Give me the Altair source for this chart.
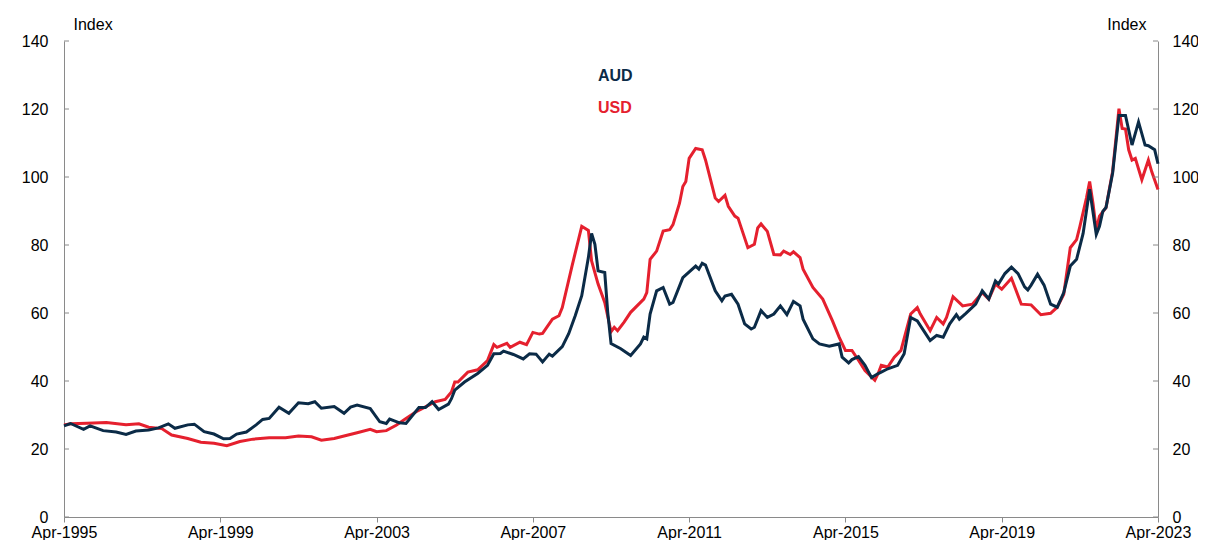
import altair as alt
import pandas as pd

# ---------------- data ----------------
aud_dates = [
    "1995-04", "1995-06", "1995-10", "1995-12", "1996-04", "1996-08", "1996-11",
    "1997-02", "1997-06", "1997-09", "1997-12", "1998-02", "1998-06", "1998-08",
    "1998-11", "1999-02", "1999-05", "1999-07", "1999-09", "1999-12", "2000-03",
    "2000-05", "2000-07", "2000-10", "2001-01", "2001-04", "2001-07", "2001-09",
    "2001-11", "2002-03", "2002-06", "2002-08", "2002-10", "2003-02", "2003-05",
    "2003-07", "2003-08", "2003-11", "2004-01", "2004-05", "2004-07", "2004-09",
    "2004-11", "2005-02", "2005-03", "2005-04", "2005-07", "2005-11", "2006-02",
    "2006-04", "2006-06", "2006-07", "2006-10", "2007-01", "2007-03", "2007-05",
    "2007-07", "2007-09", "2007-10", "2008-01", "2008-03", "2008-05", "2008-07",
    "2008-09", "2008-10", "2008-11", "2008-12", "2009-02", "2009-03", "2009-04",
    "2009-07", "2009-10", "2010-01", "2010-02", "2010-03", "2010-04", "2010-06",
    "2010-08", "2010-10", "2010-11", "2011-02", "2011-06", "2011-07", "2011-08",
    "2011-09", "2011-12", "2012-02", "2012-03", "2012-05", "2012-07", "2012-09",
    "2012-11", "2012-12", "2013-02", "2013-04", "2013-06", "2013-08", "2013-10",
    "2013-12", "2014-02", "2014-03", "2014-06", "2014-08", "2014-11", "2015-02",
    "2015-03", "2015-05", "2015-06", "2015-08", "2015-10", "2015-12", "2016-02",
    "2016-03", "2016-05", "2016-08", "2016-10", "2016-12", "2017-02", "2017-04",
    "2017-06", "2017-08", "2017-10", "2017-12", "2018-02", "2018-03", "2018-05",
    "2018-08", "2018-10", "2018-12", "2019-02", "2019-03", "2019-05", "2019-07",
    "2019-09", "2019-11", "2019-12", "2020-01", "2020-03", "2020-05", "2020-07",
    "2020-09", "2020-11", "2021-01", "2021-03", "2021-05", "2021-07", "2021-09",
    "2021-10", "2021-11", "2021-12", "2022-02", "2022-04", "2022-06", "2022-08",
    "2022-10", "2022-12", "2023-01", "2023-03", "2023-04",
]
aud_values = [
    26.8, 27.5, 25.8, 26.8, 25.4, 25.0, 24.3,
    25.3, 25.6, 26.2, 27.4, 26.1, 27.1, 27.3,
    25.1, 24.4, 23.0, 23.1, 24.4, 25.0, 27.1,
    28.7, 29.0, 32.3, 30.5, 33.6, 33.3, 33.9,
    32.0, 32.5, 30.5, 32.3, 32.9, 31.9, 28.0,
    27.5, 28.8, 27.7, 27.5, 32.2, 32.2, 33.9,
    31.6, 33.2, 34.8, 37.3, 39.7, 42.2, 44.6,
    48.0, 48.1, 48.8, 47.8, 46.5, 48.0, 47.9,
    45.6, 47.9, 47.3, 50.1, 53.9, 59.2, 65.1,
    76.3, 83.4, 80.2, 72.4, 71.9, 60.2, 51.0,
    49.5, 47.5, 50.9, 52.9, 52.4, 59.7, 66.5,
    67.5, 62.6, 63.1, 70.4, 73.8, 72.9, 74.6,
    74.1, 66.5, 63.6, 65.0, 65.5, 62.6, 56.8,
    55.3, 55.8, 60.7, 58.7, 59.7, 62.1, 59.5,
    63.4, 62.1, 58.2, 52.4, 50.9, 50.2, 50.9,
    47.0, 45.3, 46.3, 47.2, 44.6, 41.0, 42.2,
    42.6, 43.6, 44.6, 48.0, 58.7, 57.7, 54.8,
    51.9, 53.4, 52.9, 56.8, 59.5, 58.2, 59.9,
    62.6, 66.5, 64.1, 69.4, 68.5, 71.6, 73.5,
    71.6, 67.7, 66.8, 68.2, 71.4, 68.2, 62.6,
    61.7, 66.0, 73.8, 75.8, 83.4, 96.4, 83.1,
    85.5, 89.9, 91.0, 101.2, 118.1, 118.1, 109.4,
    116.2, 109.4, 109.2, 108.0, 103.9,
]

usd_dates = [
    "1995-04", "1995-06", "1995-11", "1996-05", "1996-11", "1997-03", "1997-06",
    "1997-10", "1998-01", "1998-06", "1998-10", "1999-02", "1999-06", "1999-10",
    "2000-02", "2000-07", "2000-12", "2001-04", "2001-08", "2001-11", "2002-03",
    "2002-06", "2002-10", "2003-02", "2003-04", "2003-07", "2003-10", "2004-01",
    "2004-04", "2004-07", "2004-10", "2005-01", "2005-03", "2005-04", "2005-05",
    "2005-08", "2005-11", "2006-02", "2006-04", "2006-05", "2006-08", "2006-09",
    "2006-12", "2007-02", "2007-04", "2007-06", "2007-07", "2007-10", "2007-12",
    "2008-01", "2008-04", "2008-07", "2008-09", "2008-10", "2008-12", "2009-02",
    "2009-04", "2009-05", "2009-06", "2009-08", "2009-10", "2010-02", "2010-03",
    "2010-04", "2010-06", "2010-08", "2010-10", "2010-11", "2011-01", "2011-02",
    "2011-03", "2011-04", "2011-06", "2011-08", "2011-09", "2011-12", "2012-01",
    "2012-03", "2012-04", "2012-06", "2012-07", "2012-10", "2012-12", "2013-01",
    "2013-02", "2013-04", "2013-06", "2013-08", "2013-09", "2013-11", "2013-12",
    "2014-02", "2014-03", "2014-06", "2014-09", "2014-12", "2015-02", "2015-04",
    "2015-06", "2015-08", "2015-10", "2016-01", "2016-02", "2016-03", "2016-05",
    "2016-07", "2016-09", "2016-12", "2017-02", "2017-03", "2017-06", "2017-08",
    "2017-10", "2017-11", "2018-01", "2018-04", "2018-07", "2018-10", "2018-12",
    "2019-02", "2019-04", "2019-07", "2019-10", "2020-01", "2020-04", "2020-07",
    "2020-09", "2020-11", "2021-01", "2021-03", "2021-04", "2021-06", "2021-07",
    "2021-08", "2021-09", "2021-10", "2021-12", "2022-02", "2022-04", "2022-05",
    "2022-06", "2022-07", "2022-08", "2022-09", "2022-11", "2023-01", "2023-02",
    "2023-04",
]
usd_values = [
    27.1, 27.4, 27.6, 27.8, 27.1, 27.4, 26.4,
    26.0, 24.1, 23.1, 22.0, 21.7, 21.0, 22.2,
    22.9, 23.3, 23.3, 23.8, 23.6, 22.6, 23.1,
    23.8, 24.8, 25.8, 25.1, 25.4, 27.0, 29.0,
    30.9, 32.4, 33.9, 34.6, 36.8, 39.7, 39.7,
    42.6, 43.3, 46.0, 50.7, 49.9, 51.1, 49.9,
    51.4, 50.7, 54.3, 53.8, 54.0, 58.2, 59.2,
    61.6, 73.8, 85.5, 84.3, 75.3, 68.5, 63.1,
    54.5, 55.8, 54.8, 57.3, 60.2, 64.1, 66.0,
    75.8, 78.2, 84.1, 84.5, 86.0, 92.3, 97.2,
    98.7, 105.5, 108.4, 108.0, 105.0, 93.8, 92.8,
    94.6, 91.4, 88.5, 87.9, 79.2, 80.2, 85.0,
    86.2, 84.0, 77.2, 77.1, 78.2, 77.2, 78.0,
    76.3, 72.9, 67.5, 64.1, 57.7, 52.9, 49.0,
    49.0, 46.1, 43.1, 40.2, 42.2, 44.6, 44.1,
    47.0, 49.0, 59.7, 61.6, 59.7, 54.8, 58.7,
    56.8, 58.7, 64.8, 62.1, 62.6, 66.0, 64.1,
    68.5, 67.0, 70.2, 62.6, 62.4, 59.5, 59.9,
    61.7, 65.5, 79.2, 81.6, 85.5, 93.8, 98.7,
    92.3, 84.5, 88.5, 91.0, 101.7, 120.1, 114.3,
    114.1, 108.0, 105.0, 105.5, 99.2, 105.0, 101.6,
    96.3,
]

series_names = ["AUD", "USD"]
series_colors = ["#0b2b47", "#e5202e"]
y_ticks = [0, 20, 40, 60, 80, 100, 120, 140]
x_tick_years = [1995, 1999, 2003, 2007, 2011, 2015, 2019, 2023]
axis_title = "Index"

# ---------------- tables ----------------
aud_df = pd.DataFrame({"date": [d + "-01" for d in aud_dates], "value": aud_values})
usd_df = pd.DataFrame({"date": [d + "-01" for d in usd_dates], "value": usd_values})
ticks_df = pd.DataFrame({"tick": y_ticks})

W, H = 1094, 476
FONT = "Liberation Sans"
AXIS_GREY = "#8a8a8a"

x_scale = alt.Scale(
    type="utc",
    domain=[alt.DateTime(year=1995, month=4, date=1, utc=True),
            alt.DateTime(year=2023, month=4, date=1, utc=True)],
    nice=False,
)
y_scale = alt.Scale(domain=[0, 140], nice=False, zero=True)

x_axis = alt.Axis(
    values=[alt.DateTime(year=y, month=4, date=1, utc=True) for y in x_tick_years],
    labelExpr="utcFormat(datum.value, '%b-%Y')", title=None, grid=False,
    domainColor=AXIS_GREY, tickColor=AXIS_GREY, tickSize=5,
    labelFont=FONT, labelFontSize=16, labelColor="#000000",
    labelPadding=2, labelFlush=False, labelOverlap=False,
)

left_axis = alt.Axis(
    orient="left", values=y_ticks, grid=False, ticks=False, tickSize=0,
    domainColor=AXIS_GREY, labelFont=FONT, labelFontSize=16, labelColor="#000000",
    labelPadding=16,
    title=axis_title, titleAngle=0, titleX=9, titleY=-17, titleAlign="left",
    titleBaseline="middle", titleFont=FONT, titleFontSize=16,
    titleFontWeight="normal", titleColor="#000000",
)
right_axis = alt.Axis(
    orient="right", values=y_ticks, grid=False, ticks=False, tickSize=0,
    domainColor=AXIS_GREY, labelFont=FONT, labelFontSize=16, labelColor="#000000",
    labelPadding=14,
    title=axis_title, titleAngle=0, titleX=-12, titleY=-17, titleAlign="right",
    titleBaseline="middle", titleFont=FONT, titleFontSize=16,
    titleFontWeight="normal", titleColor="#000000",
)

usd_line = alt.Chart(usd_df).mark_line(strokeWidth=3, color=series_colors[1]).encode(
    x=alt.X("date:T", scale=x_scale, axis=x_axis),
    y=alt.Y("value:Q", scale=y_scale, axis=left_axis),
)
aud_line = alt.Chart(aud_df).mark_line(strokeWidth=3, color=series_colors[0]).encode(
    x=alt.X("date:T", scale=x_scale, axis=x_axis),
    y=alt.Y("value:Q", scale=y_scale, axis=None),
)

left_ticks = alt.Chart(ticks_df).mark_rule(color=AXIS_GREY, strokeWidth=1).encode(
    y=alt.Y("tick:Q", scale=y_scale, axis=None),
    x=alt.value(0), x2=alt.value(5),
)
right_ticks = alt.Chart(ticks_df).mark_rule(color=AXIS_GREY, strokeWidth=1).encode(
    y=alt.Y("tick:Q", scale=y_scale, axis=right_axis),
    x=alt.value(W - 5), x2=alt.value(W),
)

label_aud = alt.Chart(pd.DataFrame({"name": [series_names[0]]})).mark_text(
    font=FONT, fontSize=16, fontWeight="bold", align="left", baseline="middle",
    color=series_colors[0],
).encode(text="name:N", x=alt.value(534), y=alt.value(35))
label_usd = alt.Chart(pd.DataFrame({"name": [series_names[1]]})).mark_text(
    font=FONT, fontSize=16, fontWeight="bold", align="left", baseline="middle",
    color=series_colors[1],
).encode(text="name:N", x=alt.value(534), y=alt.value(67))

chart = alt.layer(
    usd_line, aud_line, left_ticks, right_ticks, label_aud, label_usd
).resolve_scale(y="independent").properties(
    width=W, height=H,
    padding={"left": 56, "top": 33, "right": 40, "bottom": 23},
    autosize=alt.AutoSizeParams(type="none"),
    background="white",
).configure_view(stroke=None)

chart.save("out.html", embed_options={"renderer": "svg", "actions": False})
